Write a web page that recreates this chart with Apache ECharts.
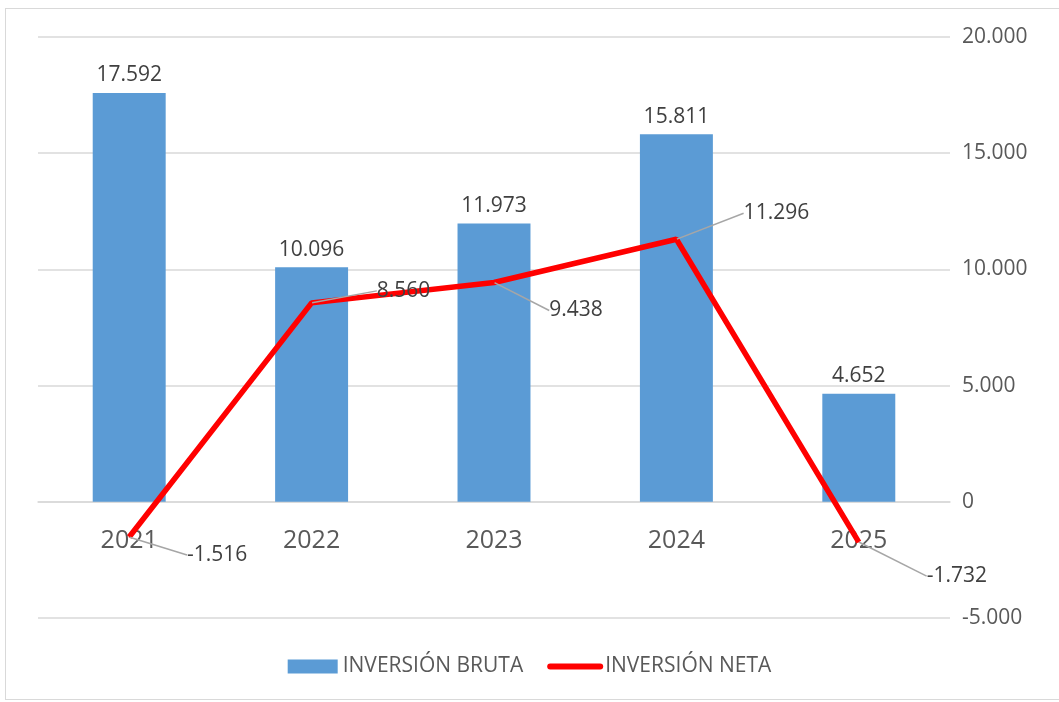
<!DOCTYPE html>
<html>
<head>
<meta charset="utf-8">
<script src="https://cdn.jsdelivr.net/npm/echarts@6/dist/echarts.min.js"></script>
<style>
    html, body { margin: 0; padding: 0; background: #fff; }
    #frame { position: absolute; left: 5px; top: 8px; width: 1060px; height: 692px; border: 1px solid #d9d9d9; box-sizing: border-box; }
    #chart { position: absolute; left: 0; top: 0; width: 1059px; height: 702px; }
</style>
</head>
<body>
<div id="frame"></div>
<div id="chart"></div>
<script>
var years = ["2021", "2022", "2023", "2024", "2025"];
var inversionBruta = [17592, 10096, 11973, 15811, 4652];
var inversionNeta = [-1516, 8560, 9438, 11296, -1732];
var yTicks = [-5000, 0, 5000, 10000, 15000, 20000];

// desplazamiento de las etiquetas de la linea (como en excel)
var netaLabelShift = [[88, 18], [92, -12], [82, 28], [100, -26], [98, 34]];

function fmtNum(v){
    var s = Math.abs(v).toString();
    var out = "";
    while (s.length > 3) {
        out = "." + s.substring(s.length - 3) + out;
        s = s.substring(0, s.length - 3);
    }
    return (v < 0 ? "-" : "") + s + out;
}

var myChart = echarts.init(document.getElementById("chart"));
var fontFam = "Open Sans";

var option = {
    animation: false,
    grid: { left: 38, right: 109, top: 37, bottom: 84 },
    legend: {
        bottom: 20,
        left: "center",
        itemGap: 24,
        itemWidth: 50,
        itemHeight: 14,
        textStyle: { color: "#595959", fontSize: 21, fontFamily: fontFam },
        data: [
            { name: "INVERSIÓN BRUTA", icon: "rect" },
            { name: "INVERSIÓN NETA", itemStyle: { opacity: 0 }, lineStyle: { width: 6, cap: "round" } }
        ]
    },
    xAxis: {
        type: "category",
        data: years,
        axisLine: { onZero: true, lineStyle: { color: "#d9d9d9", width: 1.5 } },
        axisTick: { show: false },
        // en v6 las etiquetas no siguen al eje en cero, se suben con margin
        axisLabel: { color: "#595959", fontSize: 25, fontFamily: fontFam, margin: -90 }
    },
    yAxis: {
        type: "value",
        position: "right",
        min: yTicks[0],
        max: yTicks[yTicks.length - 1],
        interval: 5000,
        axisLine: { show: false },
        axisTick: { show: false },
        splitLine: { lineStyle: { color: "#d9d9d9", width: 1.5 } },
        axisLabel: {
            color: "#595959", fontSize: 21, fontFamily: fontFam, margin: 12,
            formatter: function(v){ return fmtNum(v); }
        }
    },
    series: [
        {
            name: "INVERSIÓN BRUTA",
            type: "bar",
            data: inversionBruta,
            barWidth: "40%",
            itemStyle: { color: "#5b9bd5" },
            label: {
                show: true, position: "top", distance: 7,
                color: "#404040", fontSize: 21, fontFamily: fontFam,
                formatter: function(p){ return fmtNum(p.value); }
            }
        },
        {
            name: "INVERSIÓN NETA",
            type: "line",
            data: inversionNeta,
            symbol: "circle",
            symbolSize: 1,
            showSymbol: true,
            lineStyle: { color: "#ff0000", width: 5.5 },
            itemStyle: { color: "#ff0000" },
            z: 5,
            label: {
                show: true, position: "inside",
                color: "#404040", fontSize: 21, fontFamily: fontFam,
                formatter: function(p){ return fmtNum(p.value); }
            },
            labelLine: { show: true, lineStyle: { color: "#a6a6a6", width: 1.5 } },
            labelLayout: function(params){
                var s = netaLabelShift[params.dataIndex];
                return { dx: s[0], dy: s[1] };
            }
        }
    ]
};

myChart.setOption(option);
window.onresize = myChart.resize;
</script>
</body>
</html>
